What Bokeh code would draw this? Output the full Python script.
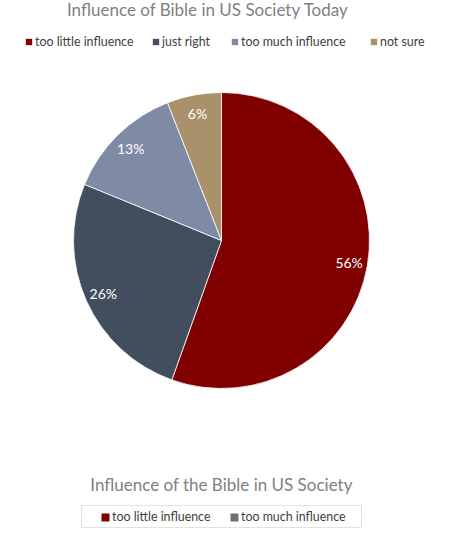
import numpy as np
from bokeh.plotting import figure
from bokeh.models import Range1d, Legend, LegendItem, Label, ColumnDataSource, BoxAnnotation
from bokeh.core.properties import value
from bokeh.embed import file_html
from bokeh.resources import INLINE

# ---- data ----
title_top = "Influence of Bible in US Society Today"
categories = ["too little influence", "just right", "too much influence", "not sure"]
percents = [56, 26, 13, 6]
pct_labels = ["56%", "26%", "13%", "6%"]
colors = ["#800000", "#424E5E", "#7F8BA5", "#A9926B"]

title_bottom = "Influence of the Bible in US Society"
bottom_categories = ["too little influence", "too much influence"]
bottom_colors = ["#800000", "#6F6F76"]

FONT = "Lato"
W, H = 449, 528
CX, CY = 221, 240   # pie centre, px from figure top-left
R = 148

p = figure(width=W, height=H, x_range=Range1d(-CX, W - CX), y_range=Range1d(-(H - CY), CY),
           output_backend="svg", toolbar_location=None, min_border=0)
p.axis.visible = False
p.grid.visible = False
p.outline_line_color = None
p.background_fill_color = "white"

vals = np.array(percents, float)
frac = vals / vals.sum()
cum = np.concatenate([[0], np.cumsum(frac)])
start = np.pi / 2 - cum[:-1] * 2 * np.pi
end = np.pi / 2 - cum[1:] * 2 * np.pi
mid = (start + end) / 2
src = ColumnDataSource(dict(cat=categories, start=start, end=end, color=colors,
                            lx=0.875 * R * np.cos(mid), ly=0.875 * R * np.sin(mid), lab=pct_labels))
w = p.wedge(x=0, y=0, radius=R, start_angle="start", end_angle="end", direction="clock",
            fill_color="color", line_color="white", line_width=0.8, source=src)
p.text(x="lx", y="ly", text="lab", source=src, text_align="center", text_baseline="middle",
       text_color="white", text_font=value(FONT), text_font_size="14px")

# top title
p.add_layout(Label(x=-13.5, y=CY - 9, text=title_top, text_align="center", text_baseline="alphabetic",
                   text_font=FONT, text_font_size="17px", text_color="#7F7F7F"))

def legend_item(label, renderer, x, y, glyph, index=None):
    it = LegendItem(label=label, renderers=[renderer]) if index is None else \
        LegendItem(label=label, renderers=[renderer], index=index)
    return Legend(items=[it], orientation="horizontal", location=(x, y), padding=0, margin=0,
                  glyph_width=glyph, glyph_height=glyph, label_standoff=2, label_height=14,
                  label_text_font=FONT, label_text_font_size="12.4px", label_text_color="#404040",
                  border_line_color=None, background_fill_alpha=0)

# top legend (one entry per item, positioned as in reference)
top_x = [24, 151, 230, 369]
for i, c in enumerate(categories):
    p.add_layout(legend_item(c, w, top_x[i], 479, 9, index=i))

# bottom (empty) chart title and legend
p.add_layout(Label(x=0, y=CY - 484, text=title_bottom, text_align="center", text_baseline="alphabetic",
                   text_font=FONT, text_font_size="17px", text_color="#7F7F7F"))
p.add_layout(BoxAnnotation(left=-140, right=140, top=CY - 505, bottom=CY - 527, fill_color=None,
                           line_color="#A0A0A0", line_width=1))
brs = [p.rect(x=np.array([np.nan]), y=np.array([np.nan]), width=1, height=1, fill_color=c, line_color=None)
       for c in bottom_colors]
bot_x = [100, 229]
for i, (c, r) in enumerate(zip(bottom_categories, brs)):
    p.add_layout(legend_item(c, r, bot_x[i], 4, 10))

open("out.html", "w").write(file_html(p, INLINE))
